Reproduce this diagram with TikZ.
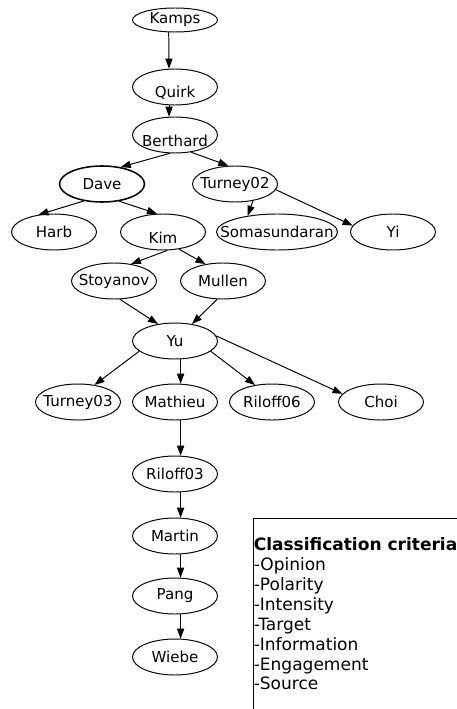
\documentclass[tikz,border=0pt]{standalone}
\usepackage{fontspec}
\setmainfont{DejaVu Sans}
\usetikzlibrary{shapes.geometric, arrows.meta, positioning}
\newcommand{\sunk}[1]{\raisebox{-0.15cm}[\height][\depth]{#1}}

\begin{document}
\begin{tikzpicture}[
    x=0.025cm, y=-0.025cm,
    paper/.style={ellipse, draw, line width=0.7pt, inner sep=0pt, minimum width=2.125cm, minimum height=0.9cm, font=\fontsize{10.7}{13}\selectfont, execute at begin node={\hbox to 0pt\bgroup\hss}, execute at end node={\hss\egroup}},
    survey/.style={paper, line width=1.1pt},
    cite/.style={-{Triangle[length=0.25cm, width=0.18cm]}, line width=0.7pt},
    criteria/.style={anchor=north west, inner sep=0pt, align=left, font=\fontsize{12.1}{14.2}\selectfont}
]
    \useasboundingbox (0,0) rectangle (457,709);

    % Upper chain
    \node[paper, minimum height=0.6cm] (kamps) at (175,20) {Kamps};
    \node[paper] (quirk) at (175,87) {\sunk{Quirk}};
    \node[paper] (berthard) at (175,135) {\sunk{Berthard}};

    % Second level
    \node[survey] (dave) at (102,184) {Dave};
    \node[paper] (turney02) at (235,184) {Turney02};
    \node[paper] (harb) at (54,232) {Harb};
    \node[paper] (kim) at (163,232) {\sunk{Kim}};
    \node[paper, minimum width=3.025cm] (soma) at (277,232) {Somasundaran};
    \node[paper] (yi) at (393,232) {Yi};
    \node[paper] (stoyanov) at (114,281) {Stoyanov};
    \node[paper] (mullen) at (223,281) {Mullen};

    % Yu and its children
    \node[paper] (yu) at (175,341) {Yu};
    \node[paper] (turney03) at (78,402) {Turney03};
    \node[paper] (mathieu) at (175,402) {Mathieu};
    \node[paper] (riloff06) at (272,402) {Riloff06};
    \node[paper] (choi) at (381,402) {Choi};

    % Lower chain
    \node[paper] (riloff03) at (175,474) {Riloff03};
    \node[paper] (martin) at (175,536) {Martin};
    \node[paper] (pang) at (175,596) {Pang};
    \node[paper] (wiebe) at (175,657) {Wiebe};

    % Arrows
    \draw[cite] (kamps.243) -- (quirk.108);
    \draw[cite] (quirk.252) -- (berthard.108);
    \draw[cite] (berthard.254) -- (dave.42);
    \draw[cite] (berthard.313) -- (turney02.110);
    \draw[cite] (dave.223) -- (harb.132);
    \draw[cite] (dave.315) -- (kim.108);
    \draw[cite] (turney02.317) -- (soma.151);
    \draw[cite] (turney02.352) -- (yi.171);
    \draw[cite] (kim.283) -- (stoyanov.45);
    \draw[cite] (kim.313) -- (mullen.136);
    \draw[cite] (stoyanov.288) -- (yu.135);
    \draw[cite] (mullen.252) -- (yu.45);
    \draw[cite] (yu.196) -- (turney03.46);
    \draw[cite] (yu.287) -- (mathieu.73);
    \draw[cite] (yu.344) -- (riloff06.135);
    \draw[cite] (yu.7) -- (choi.168);
    \draw[cite] (mathieu.287) -- (riloff03.73);
    \draw[cite] (riloff03.287) -- (martin.73);
    \draw[cite] (martin.287) -- (pang.73);
    \draw[cite] (pang.287) -- (wiebe.73);

    % Criteria box
    \draw[line width=0.7pt] (253,712) |- (460,518);
    \node[criteria] (crit) at (253.5,537) {\textbf{Classification criteria}\\-Opinion\\-Polarity\\-Intensity\\-Target\\-Information\\-Engagement\\-Source};
\end{tikzpicture}
\end{document}
